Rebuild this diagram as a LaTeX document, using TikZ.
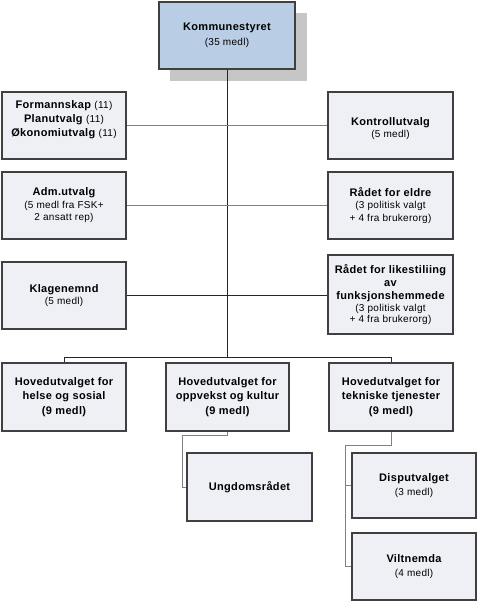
\documentclass[tikz,border=0pt]{standalone}
\usepackage{fontspec}
\setmainfont[LetterSpace=3]{Liberation Sans}
\begin{document}
\begin{tikzpicture}[x=1pt,y=-1pt,
  box/.style={draw=black!75, line width=1.1pt, fill=boxfill, align=center,
    inner sep=2pt, font=\fontsize{11}{12.5}\selectfont\bfseries},
  link/.style={line width=0.9pt, draw=black!85},
  glink/.style={line width=0.9pt, draw=black!50}]
\definecolor{boxfill}{HTML}{EEF0F5}
\definecolor{topfill}{HTML}{B9CDE5}
\definecolor{shadowc}{HTML}{C6C6C6}
\newcommand\sm[1]{{\fontsize{10}{12}\selectfont\mdseries #1}}
\useasboundingbox (0,0) rectangle (477,602);
% shadow of top box
\fill[shadowc] (170,13) rectangle (307,81);
\node[box, fill=topfill, line width=1.5pt, minimum width=136pt, minimum height=67pt] (K) at (227,35.5)
  {Kommunestyret\\[3pt]\sm{(35 medl)}};
\node[box, minimum width=124pt, minimum height=67pt, font=\fontsize{11}{13.8}\selectfont\bfseries] (F) at (64,125.5)
  {Formannskap \sm{(11)}\\Planutvalg \sm{(11)}\\Økonomiutvalg \sm{(11)}\\[-4pt]\strut};
\node[box, minimum width=125pt, minimum height=67pt] (Ko) at (390.5,125.5)
  {\strut\\[-7pt]Kontrollutvalg\\\sm{(5 medl)}};
\node[box, minimum width=124pt, minimum height=67pt] (A) at (64,205.5)
  {Adm.utvalg\\\sm{(5 medl fra FSK+}\\\sm{2 ansatt rep)}};
\node[box, minimum width=125pt, minimum height=67pt] (E) at (390.5,205.5)
  {Rådet for eldre\\\sm{(3 politisk valgt}\\\sm{+ 4 fra brukerorg)}};
\node[box, minimum width=124pt, minimum height=67pt] (Kl) at (64,295.5)
  {Klagenemnd\\\sm{(5 medl)}};
\node[box, minimum width=125pt, minimum height=79pt, font=\fontsize{11}{13.2}\selectfont\bfseries] (L) at (390.5,294.5)
  {Rådet for likestiliing\\av\\funksjonshemmede\\[-1pt]\sm{(3 politisk valgt}\\[-2pt]\sm{+ 4 fra brukerorg)}};
\node[box, minimum width=124pt, minimum height=68pt, font=\fontsize{11}{14.5}\selectfont\bfseries] (H1) at (64,397)
  {Hovedutvalget for\\helse og sosial\\(9 medl)};
\node[box, minimum width=123pt, minimum height=68pt, font=\fontsize{11}{14.5}\selectfont\bfseries] (H2) at (227.5,397)
  {Hovedutvalget for\\oppvekst og kultur\\(9 medl)};
\node[box, minimum width=124pt, minimum height=68pt, font=\fontsize{11}{14.5}\selectfont\bfseries] (H3) at (391,397)
  {Hovedutvalget for\\tekniske tjenester\\(9 medl)};
\node[box, minimum width=125pt, minimum height=68pt] (U) at (249.5,487)
  {Ungdomsrådet};
\node[box, minimum width=124pt, minimum height=65pt] (D) at (414,485.5)
  {Disputvalget\\[1pt]\sm{(3 medl)}};
\node[box, minimum width=124pt, minimum height=67pt] (V) at (414,566.5)
  {Viltnemda\\[1pt]\sm{(4 medl)}};
% connectors
\coordinate (bar) at (227,357);
\draw[link] (K.south) -- (bar);
\draw[glink] (F.east) -- (Ko.west);
\draw[glink] (A.east) -- (E.west);
\draw[link] (Kl.east) -- (Kl.east -| L.west);
\draw[link] (H1.north) -- (H1.north |- bar) -- (H3.north |- bar) -- (H3.north);
\coordinate (u1) at (182,435);
\draw[glink] (H2.south) |- (u1) |- (U.west);
\coordinate (t1) at (345,445);
\draw[glink] (H3.south) |- (t1) |- (V.west);
\draw[glink] (t1 |- D.west) -- (D.west);
\end{tikzpicture}
\end{document}
